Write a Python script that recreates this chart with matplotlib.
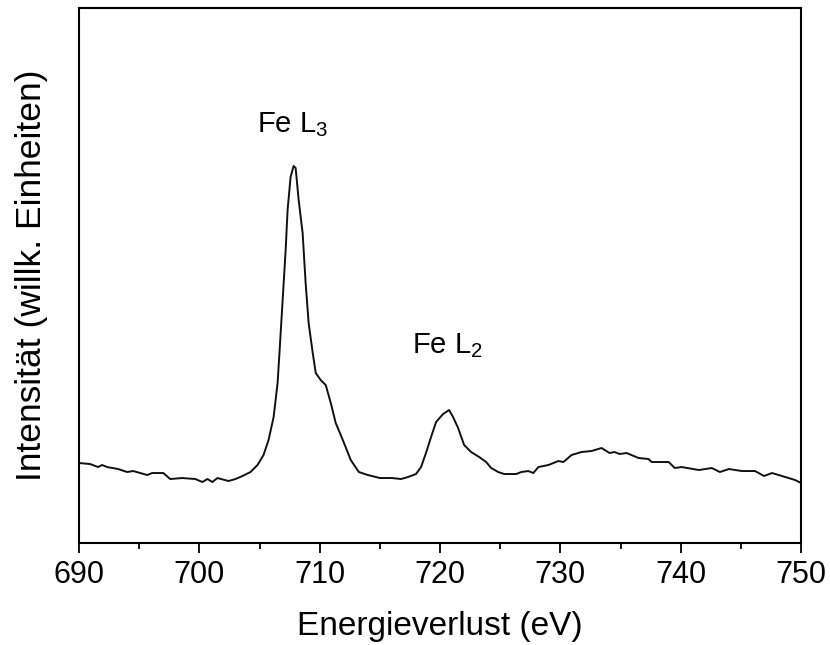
import matplotlib.pyplot as plt

plt.rcParams['font.family'] = ['Liberation Sans', 'DejaVu Sans']
plt.rcParams['mathtext.fontset'] = 'custom'
plt.rcParams['mathtext.rm'] = 'Liberation Sans'

# EELS spectrum (arbitrary intensity units)
energy = [690.00, 690.92, 691.58, 691.92, 692.33, 693.25, 694.00, 694.50, 695.67, 696.08,
          697.00, 697.58, 698.58, 699.67, 700.25, 700.67, 701.08, 701.50, 702.42, 703.00,
          703.58, 704.25, 704.83, 705.33, 705.75, 706.17, 706.50, 706.67, 706.92, 707.17,
          707.33, 707.58, 707.83, 708.00, 708.25, 708.58, 708.83, 709.08, 709.42, 709.67,
          710.08, 710.50, 710.92, 711.33, 711.92, 712.58, 713.25, 714.00, 715.00, 716.00,
          716.75, 717.33, 718.00, 718.42, 718.83, 719.25, 719.67, 720.25, 720.75, 721.08,
          721.50, 722.00, 722.58, 723.25, 723.83, 724.25, 724.83, 725.33, 726.33, 726.75,
          727.33, 727.75, 728.17, 729.00, 729.83, 730.25, 730.92, 731.75, 732.58, 733.42,
          734.08, 734.50, 734.92, 735.50, 736.50, 737.33, 737.58, 739.00, 739.50, 740.08,
          741.50, 742.58, 743.25, 744.00, 745.08, 746.17, 746.92, 747.58, 748.42, 749.50,
          750.00]
intensity = [80, 79, 76, 78, 76, 74, 71, 72, 68, 70,
             70, 64, 65, 64, 61, 64, 61, 65, 62, 64,
             67, 71, 78, 88, 103, 126, 160, 193, 243, 293,
             333, 366, 377, 375, 343, 310, 260, 220, 190, 170,
             163, 158, 140, 120, 103, 83, 71, 68, 65, 65,
             64, 66, 69, 76, 90, 106, 121, 129, 133, 126,
             115, 98, 91, 86, 81, 75, 71, 69, 69, 71,
             72, 70, 76, 78, 82, 81, 88, 91, 92, 95,
             90, 91, 89, 90, 85, 84, 81, 81, 75, 76,
             73, 75, 71, 74, 72, 72, 67, 70, 67, 63,
             60]

peak_labels = ['Fe L$_{3}$', 'Fe L$_{2}$']
peak_label_x = [707.75, 720.6]
peak_label_y = [411, 190]

fig = plt.figure(figsize=(8.3, 6.45), dpi=100)
ax = fig.add_axes([0.0952, 0.1581, 0.8700, 0.8295])

ax.plot(energy, intensity, color='#111111', linewidth=1.4)

for lbl, x, y in zip(peak_labels, peak_label_x, peak_label_y):
    ax.text(x, y, lbl, ha='center', va='baseline', fontsize=21)

ax.set_xlim(690, 750)
ax.set_ylim(0, 535)
ax.set_xticks(range(690, 751, 10))
ax.set_xticks(range(695, 751, 10), minor=True)
ax.set_yticks([])
ax.tick_params(axis='x', which='major', direction='out', length=7, width=1.3, labelsize=22, pad=5)
ax.tick_params(axis='x', which='minor', direction='out', length=4, width=1.3)
for s in ax.spines.values():
    s.set_linewidth(1.5)

ax.set_xlabel('Energieverlust (eV)', fontsize=24, labelpad=15)
ax.set_ylabel('Intensität (willk. Einheiten)', fontsize=25.5, labelpad=22)

fig.savefig('out.png', dpi=100)
